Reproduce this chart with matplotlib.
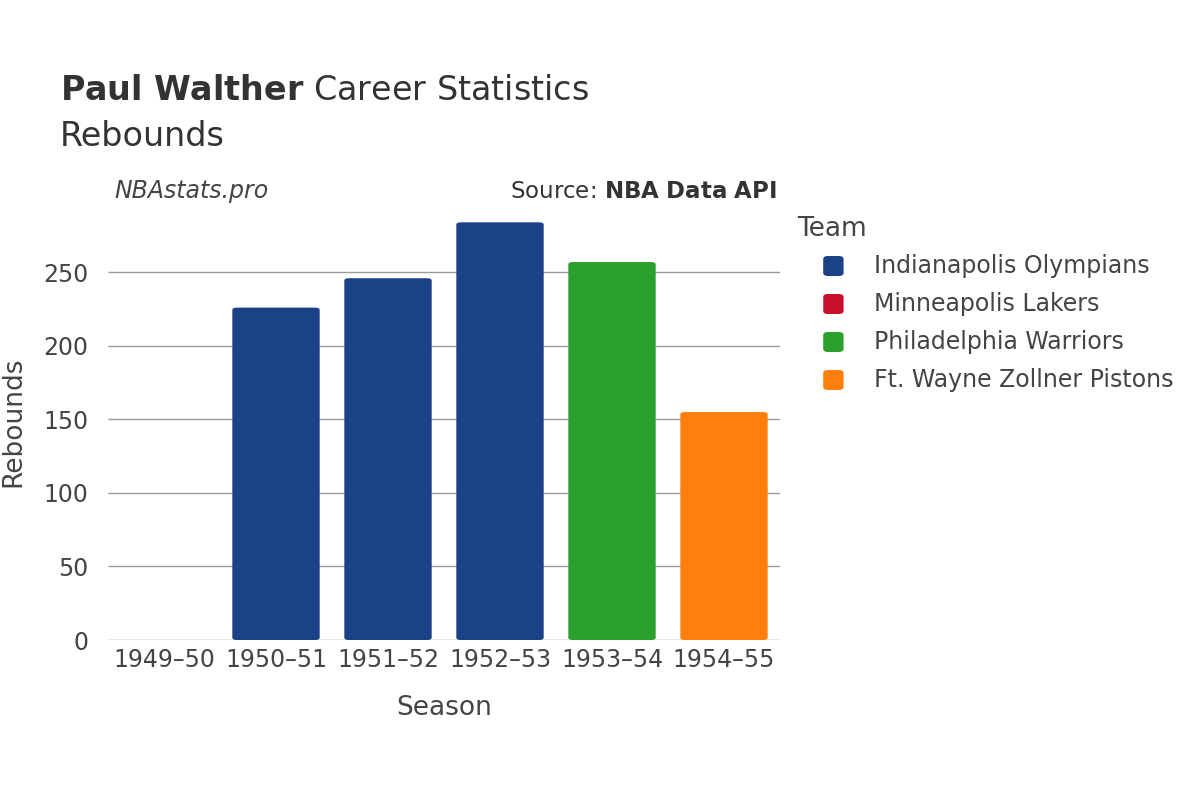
import matplotlib
matplotlib.use("Agg")
import matplotlib.pyplot as plt
from matplotlib.patches import FancyBboxPatch

seasons = ["1949–50", "1950–51", "1951–52", "1952–53", "1953–54", "1954–55"]
rebounds = [0, 226, 246, 284, 257, 155]
teams = ["Minneapolis Lakers", "Indianapolis Olympians", "Indianapolis Olympians",
         "Indianapolis Olympians", "Philadelphia Warriors", "Ft. Wayne Zollner Pistons"]
legend_teams = ["Indianapolis Olympians", "Minneapolis Lakers", "Philadelphia Warriors", "Ft. Wayne Zollner Pistons"]
colors = {"Indianapolis Olympians": "#1b4287", "Minneapolis Lakers": "#c8102e",
          "Philadelphia Warriors": "#2ca02c", "Ft. Wayne Zollner Pistons": "#ff7f0e"}
yticks = [0, 50, 100, 150, 200, 250]

plt.rcParams["font.family"] = "DejaVu Sans"
fig = plt.figure(figsize=(12, 8), dpi=100)
ax = fig.add_axes([0.09, 0.2, 0.56, 0.546])
ax.set_xlim(-0.5, 5.5)
ax.set_ylim(0, 297)
for i, (v, t) in enumerate(zip(rebounds, teams)):
    if v > 0:
        ax.add_patch(FancyBboxPatch((i - 0.39, 0), 0.78, v,
                     boxstyle="round,pad=0,rounding_size=0.04", mutation_aspect=40,
                     fc=colors[t], ec="none", zorder=3))
ax.set_yticks(yticks)
ax.set_xticks(range(len(seasons)))
ax.set_xticklabels(seasons)
ax.tick_params(axis="both", labelsize=17, colors="#444444", length=0, pad=6)
ax.tick_params(axis="y", length=8, color="white")
ax.grid(axis="y", color="#999999", lw=1, zorder=0)
for s in ax.spines.values():
    s.set_visible(False)
ax.axhline(0, color="#e6e6e6", lw=2, zorder=2)
ax.set_xlabel("Season", fontsize=19, color="#444444", labelpad=16)
ax.set_ylabel("Rebounds", fontsize=19, color="#444444", labelpad=12)

fig.text(0.05, 0.875, r"$\bf{Paul\ Walther}$ Career Statistics", fontsize=24, color="#333333")
fig.text(0.05, 0.818, "Rebounds", fontsize=24, color="#333333")
fig.text(0.095, 0.752, "NBAstats.pro", fontsize=17, color="#444444", style="italic")
fig.text(0.647, 0.752, r"Source: $\bf{NBA\ Data\ API}$", fontsize=16.5, color="#333333", ha="right")

fig.text(0.664, 0.705, "Team", fontsize=19, color="#444444")
for k, t in enumerate(legend_teams):
    y = 0.667 - k * 0.0475
    fig.patches.append(FancyBboxPatch((0.686, y - 0.012), 0.017, 0.025,
                       boxstyle="round,pad=0,rounding_size=0.004", transform=fig.transFigure,
                       fc=colors[t], ec="none"))
    fig.text(0.728, y, t, fontsize=17, color="#444444", va="center")

fig.savefig("out.png", dpi=100)
